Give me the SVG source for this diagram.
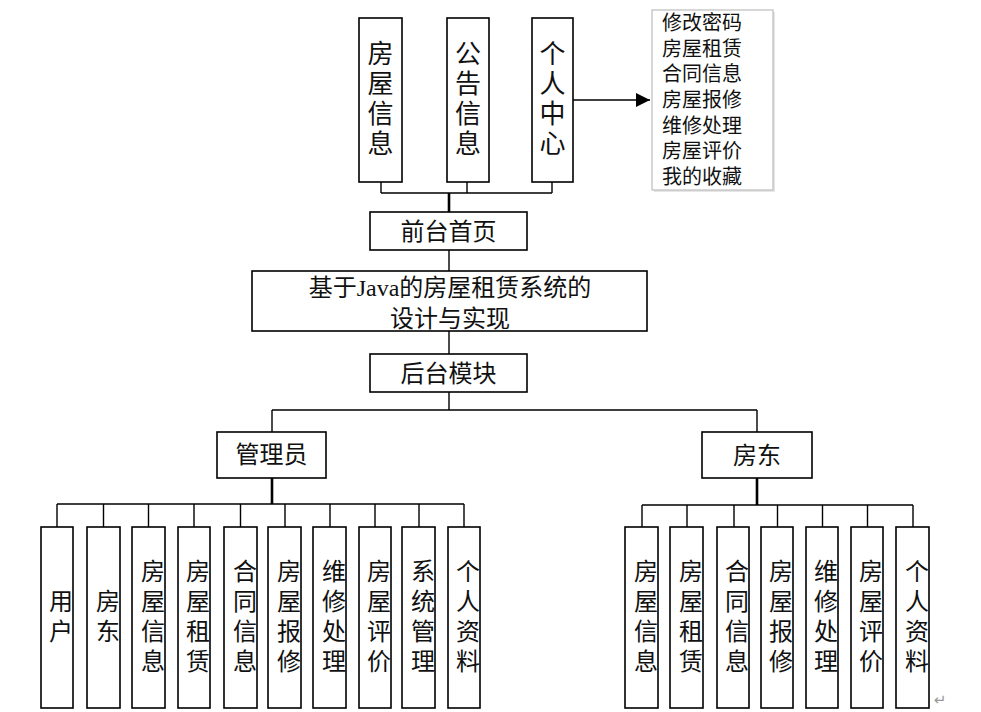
<svg xmlns="http://www.w3.org/2000/svg" width="981" height="712" viewBox="0 0 981 712">
<style>
.box{fill:#fff;stroke:#000;stroke-width:1.6}
.ln{fill:none;stroke:#000;stroke-width:1.4}
.thk{fill:none;stroke:#000;stroke-width:2.6}
text{font-family:"Liberation Serif","Noto Sans CJK SC",serif;fill:#111;text-anchor:middle}
.t26{font-size:26px}
.t24{font-size:24px}
.t20{font-size:20px;text-anchor:start}
</style>
<defs>
<marker id="arr" markerWidth="14" markerHeight="14" refX="14" refY="7" orient="auto" markerUnits="userSpaceOnUse">
<path d="M0,0 L14,7 L0,14 Z" fill="#000"/>
</marker>
</defs>
<rect width="981" height="712" fill="#fff"/>
<g id="connectors">
<path class="ln" d="M381,182 V193 M467,182 V193 M552,182 V193 M381,193 H552"/>
<path class="thk" d="M449,193 V212"/>
<path class="ln" d="M449,250 V271 M449,331 V354"/>
<path class="ln" d="M573,100 H650" marker-end="url(#arr)"/>
<path class="ln" d="M449,392 V410 M272,410 H757 M272,410 V432 M757,410 V432"/>
<path class="thk" d="M272,478 V504 M757,478 V505"/>
<path class="ln" d="M57,504 H464 M57,504 V527 M103.5,504 V527 M148.5,504 V527 M194,504 V527 M240.5,504 V527 M285,504 V527 M330,504 V527 M375,504 V527 M419,504 V527 M464,504 V527"/>
<path class="ln" d="M642,505 H913 M642,505 V527 M687,505 V527 M734,505 V527 M777.5,505 V527 M822.5,505 V527 M867.5,505 V527 M913,505 V527"/>
</g>
<g id="n_fwxx"><rect class="box" x="359" y="18" width="43" height="164"/>
<text class="t26" x="380.5"><tspan x="380.5" y="63">房</tspan><tspan x="380.5" y="93">屋</tspan><tspan x="380.5" y="123">信</tspan><tspan x="380.5" y="153">息</tspan></text></g>
<g id="n_ggxx"><rect class="box" x="447" y="18" width="42" height="164"/>
<text class="t26" x="468"><tspan x="468" y="63">公</tspan><tspan x="468" y="93">告</tspan><tspan x="468" y="123">信</tspan><tspan x="468" y="153">息</tspan></text></g>
<g id="n_grzx"><rect class="box" x="532" y="18" width="41" height="164"/>
<text class="t26" x="552.5"><tspan x="552.5" y="63">个</tspan><tspan x="552.5" y="93">人</tspan><tspan x="552.5" y="123">中</tspan><tspan x="552.5" y="153">心</tspan></text></g>
<g id="n_list">
<rect x="654" y="12" width="121" height="180" fill="#e6e6e6"/>
<rect x="652" y="10" width="121" height="180" fill="#fff" stroke="#bdbdbd" stroke-width="1.2"/>
<text class="t20"><tspan x="662" y="30">修改密码</tspan><tspan x="662" y="55.7">房屋租赁</tspan><tspan x="662" y="81.3">合同信息</tspan><tspan x="662" y="107">房屋报修</tspan><tspan x="662" y="132.7">维修处理</tspan><tspan x="662" y="158.3">房屋评价</tspan><tspan x="662" y="184">我的收藏</tspan></text>
</g>
<g id="n_qtsy"><rect class="box" x="370" y="212" width="157" height="38"/><text class="t24" x="448.5" y="240">前台首页</text></g>
<g id="n_main"><rect class="box" x="252" y="271" width="395" height="60"/>
<text class="t24"><tspan x="450" y="296">基于Java的房屋租赁系统的</tspan><tspan x="450" y="327">设计与实现</tspan></text></g>
<g id="n_htmk"><rect class="box" x="370" y="354" width="157" height="38"/><text class="t24" x="448.5" y="382">后台模块</text></g>
<g id="n_admin"><rect class="box" x="217" y="432" width="109" height="46"/><text class="t24" x="271.5" y="463">管理员</text></g>
<g id="n_landlord"><rect class="box" x="702" y="432" width="110" height="46"/><text class="t24" x="757" y="464">房东</text></g>
<g id="admin_children" class="t24">
<g id="a1"><rect class="box" x="41" y="527" width="32" height="181"/><text class="t24"><tspan x="61" y="610">用</tspan><tspan x="61" y="640">户</tspan></text></g>
<g id="a2"><rect class="box" x="87" y="527" width="33" height="181"/><text class="t24"><tspan x="108" y="610">房</tspan><tspan x="108" y="640">东</tspan></text></g>
<g id="a3"><rect class="box" x="132" y="527" width="33" height="181"/><text class="t24"><tspan x="153" y="580">房</tspan><tspan x="153" y="610">屋</tspan><tspan x="153" y="640">信</tspan><tspan x="153" y="670">息</tspan></text></g>
<g id="a4"><rect class="box" x="178" y="527" width="32" height="181"/><text class="t24"><tspan x="198" y="580">房</tspan><tspan x="198" y="610">屋</tspan><tspan x="198" y="640">租</tspan><tspan x="198" y="670">赁</tspan></text></g>
<g id="a5"><rect class="box" x="224" y="527" width="33" height="181"/><text class="t24"><tspan x="245" y="580">合</tspan><tspan x="245" y="610">同</tspan><tspan x="245" y="640">信</tspan><tspan x="245" y="670">息</tspan></text></g>
<g id="a6"><rect class="box" x="268" y="527" width="33" height="181"/><text class="t24"><tspan x="289" y="580">房</tspan><tspan x="289" y="610">屋</tspan><tspan x="289" y="640">报</tspan><tspan x="289" y="670">修</tspan></text></g>
<g id="a7"><rect class="box" x="313" y="527" width="33" height="181"/><text class="t24"><tspan x="334" y="580">维</tspan><tspan x="334" y="610">修</tspan><tspan x="334" y="640">处</tspan><tspan x="334" y="670">理</tspan></text></g>
<g id="a8"><rect class="box" x="359" y="527" width="32" height="181"/><text class="t24"><tspan x="379" y="580">房</tspan><tspan x="379" y="610">屋</tspan><tspan x="379" y="640">评</tspan><tspan x="379" y="670">价</tspan></text></g>
<g id="a9"><rect class="box" x="402" y="527" width="33" height="181"/><text class="t24"><tspan x="423" y="580">系</tspan><tspan x="423" y="610">统</tspan><tspan x="423" y="640">管</tspan><tspan x="423" y="670">理</tspan></text></g>
<g id="a10"><rect class="box" x="448" y="527" width="32" height="181"/><text class="t24"><tspan x="468" y="580">个</tspan><tspan x="468" y="610">人</tspan><tspan x="468" y="640">资</tspan><tspan x="468" y="670">料</tspan></text></g>
</g>
<g id="landlord_children">
<g id="b1"><rect class="box" x="625" y="527" width="33" height="181"/><text class="t24"><tspan x="646" y="580">房</tspan><tspan x="646" y="610">屋</tspan><tspan x="646" y="640">信</tspan><tspan x="646" y="670">息</tspan></text></g>
<g id="b2"><rect class="box" x="670" y="527" width="33" height="181"/><text class="t24"><tspan x="691" y="580">房</tspan><tspan x="691" y="610">屋</tspan><tspan x="691" y="640">租</tspan><tspan x="691" y="670">赁</tspan></text></g>
<g id="b3"><rect class="box" x="717" y="527" width="32" height="181"/><text class="t24"><tspan x="737" y="580">合</tspan><tspan x="737" y="610">同</tspan><tspan x="737" y="640">信</tspan><tspan x="737" y="670">息</tspan></text></g>
<g id="b4"><rect class="box" x="761" y="527" width="32" height="181"/><text class="t24"><tspan x="781" y="580">房</tspan><tspan x="781" y="610">屋</tspan><tspan x="781" y="640">报</tspan><tspan x="781" y="670">修</tspan></text></g>
<g id="b5"><rect class="box" x="806" y="527" width="32" height="181"/><text class="t24"><tspan x="826" y="580">维</tspan><tspan x="826" y="610">修</tspan><tspan x="826" y="640">处</tspan><tspan x="826" y="670">理</tspan></text></g>
<g id="b6"><rect class="box" x="851" y="527" width="32" height="181"/><text class="t24"><tspan x="871" y="580">房</tspan><tspan x="871" y="610">屋</tspan><tspan x="871" y="640">评</tspan><tspan x="871" y="670">价</tspan></text></g>
<g id="b7"><rect class="box" x="896" y="527" width="33" height="181"/><text class="t24"><tspan x="917" y="580">个</tspan><tspan x="917" y="610">人</tspan><tspan x="917" y="640">资</tspan><tspan x="917" y="670">料</tspan></text></g>
</g>
<text x="940" y="705" style="font-family:'DejaVu Sans',sans-serif;font-size:15px;fill:#999">↵</text>
</svg>
